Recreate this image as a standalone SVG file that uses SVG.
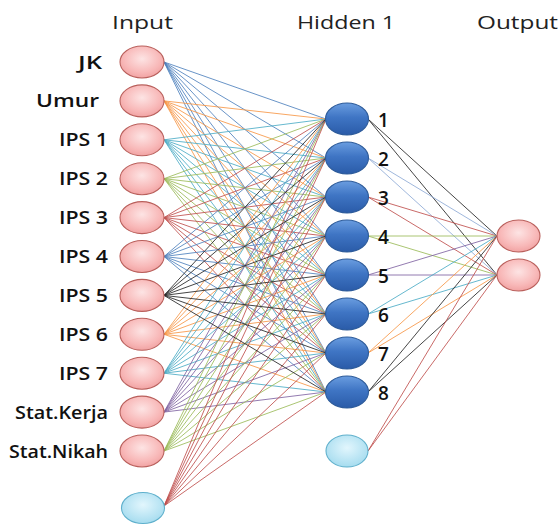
<svg xmlns="http://www.w3.org/2000/svg" width="560" height="525" viewBox="0 0 560 525">
<defs>
<radialGradient id="gPink" cx="50%" cy="40%" r="60%">
<stop offset="0" stop-color="#fde4e4"/>
<stop offset="0.7" stop-color="#f8b8b8"/>
<stop offset="1" stop-color="#f1a3a3"/>
</radialGradient>
<linearGradient id="gBlue" x1="0" y1="0" x2="0" y2="1">
<stop offset="0" stop-color="#6a9de0"/>
<stop offset="0.45" stop-color="#3f75c4"/>
<stop offset="1" stop-color="#2a5ba8"/>
</linearGradient>
<radialGradient id="gCyan" cx="50%" cy="40%" r="60%">
<stop offset="0" stop-color="#e2f6fd"/>
<stop offset="1" stop-color="#a6dcef"/>
</radialGradient>
</defs>
<style>
text{font-family:"Open Sans","DejaVu Sans","Liberation Sans",sans-serif;font-size:18px;fill:#111;font-weight:600}
.hdr{font-size:18px;font-weight:500;fill:#222}
.num{font-size:19px}
.pink{fill:url(#gPink);stroke:#b9605c;stroke-width:1.1}
.blue{fill:url(#gBlue);stroke:#2d5b9a;stroke-width:1.1}
.cyan{fill:url(#gCyan);stroke:#5fb0cc;stroke-width:1.1}
#connectors line{stroke-width:1;fill:none;stroke-opacity:0.85}
.b{stroke:#4f81bd}.o{stroke:#f79646}.t{stroke:#4bacc6}.g{stroke:#9bbb59}
.r{stroke:#c0504d}.k{stroke:#262626}.p{stroke:#8064a2}.lb{stroke:#8eaad6}
</style>
<rect width="560" height="525" fill="#fff"/>
<g id="headers">
<text class="hdr" x="112" y="29" textLength="61" lengthAdjust="spacingAndGlyphs">Input</text>
<text class="hdr" x="297" y="29" textLength="98" lengthAdjust="spacingAndGlyphs">Hidden 1</text>
<text class="hdr" x="477" y="29" textLength="81" lengthAdjust="spacingAndGlyphs">Output</text>
</g>
<g id="connectors">
<g class="b">
<line x1="164" y1="62" x2="326" y2="119"/><line x1="164" y1="62" x2="326" y2="158"/><line x1="164" y1="62" x2="326" y2="197"/><line x1="164" y1="62" x2="326" y2="236"/><line x1="164" y1="62" x2="326" y2="275"/><line x1="164" y1="62" x2="326" y2="314"/><line x1="164" y1="62" x2="326" y2="353"/><line x1="164" y1="62" x2="326" y2="392"/>
</g>
<g class="o">
<line x1="164" y1="100.9" x2="326" y2="119"/><line x1="164" y1="100.9" x2="326" y2="158"/><line x1="164" y1="100.9" x2="326" y2="197"/><line x1="164" y1="100.9" x2="326" y2="236"/><line x1="164" y1="100.9" x2="326" y2="275"/><line x1="164" y1="100.9" x2="326" y2="314"/><line x1="164" y1="100.9" x2="326" y2="353"/><line x1="164" y1="100.9" x2="326" y2="392"/>
</g>
<g class="t">
<line x1="164" y1="139.8" x2="326" y2="119"/><line x1="164" y1="139.8" x2="326" y2="158"/><line x1="164" y1="139.8" x2="326" y2="197"/><line x1="164" y1="139.8" x2="326" y2="236"/><line x1="164" y1="139.8" x2="326" y2="275"/><line x1="164" y1="139.8" x2="326" y2="314"/><line x1="164" y1="139.8" x2="326" y2="353"/><line x1="164" y1="139.8" x2="326" y2="392"/>
</g>
<g class="g">
<line x1="164" y1="178.7" x2="326" y2="119"/><line x1="164" y1="178.7" x2="326" y2="158"/><line x1="164" y1="178.7" x2="326" y2="197"/><line x1="164" y1="178.7" x2="326" y2="236"/><line x1="164" y1="178.7" x2="326" y2="275"/><line x1="164" y1="178.7" x2="326" y2="314"/><line x1="164" y1="178.7" x2="326" y2="353"/><line x1="164" y1="178.7" x2="326" y2="392"/>
</g>
<g class="r">
<line x1="164" y1="217.6" x2="326" y2="119"/><line x1="164" y1="217.6" x2="326" y2="158"/><line x1="164" y1="217.6" x2="326" y2="197"/><line x1="164" y1="217.6" x2="326" y2="236"/><line x1="164" y1="217.6" x2="326" y2="275"/><line x1="164" y1="217.6" x2="326" y2="314"/><line x1="164" y1="217.6" x2="326" y2="353"/><line x1="164" y1="217.6" x2="326" y2="392"/>
</g>
<g class="b">
<line x1="164" y1="256.5" x2="326" y2="119"/><line x1="164" y1="256.5" x2="326" y2="158"/><line x1="164" y1="256.5" x2="326" y2="197"/><line x1="164" y1="256.5" x2="326" y2="236"/><line x1="164" y1="256.5" x2="326" y2="275"/><line x1="164" y1="256.5" x2="326" y2="314"/><line x1="164" y1="256.5" x2="326" y2="353"/><line x1="164" y1="256.5" x2="326" y2="392"/>
</g>
<g class="o">
<line x1="164" y1="334.3" x2="326" y2="119"/><line x1="164" y1="334.3" x2="326" y2="158"/><line x1="164" y1="334.3" x2="326" y2="197"/><line x1="164" y1="334.3" x2="326" y2="236"/><line x1="164" y1="334.3" x2="326" y2="275"/><line x1="164" y1="334.3" x2="326" y2="314"/><line x1="164" y1="334.3" x2="326" y2="353"/><line x1="164" y1="334.3" x2="326" y2="392"/>
</g>
<g class="t">
<line x1="164" y1="373.2" x2="326" y2="119"/><line x1="164" y1="373.2" x2="326" y2="158"/><line x1="164" y1="373.2" x2="326" y2="197"/><line x1="164" y1="373.2" x2="326" y2="236"/><line x1="164" y1="373.2" x2="326" y2="275"/><line x1="164" y1="373.2" x2="326" y2="314"/><line x1="164" y1="373.2" x2="326" y2="353"/><line x1="164" y1="373.2" x2="326" y2="392"/>
</g>
<g class="p">
<line x1="164" y1="412.1" x2="326" y2="119"/><line x1="164" y1="412.1" x2="326" y2="158"/><line x1="164" y1="412.1" x2="326" y2="197"/><line x1="164" y1="412.1" x2="326" y2="236"/><line x1="164" y1="412.1" x2="326" y2="275"/><line x1="164" y1="412.1" x2="326" y2="314"/><line x1="164" y1="412.1" x2="326" y2="353"/><line x1="164" y1="412.1" x2="326" y2="392"/>
</g>
<g class="g">
<line x1="164" y1="451" x2="326" y2="119"/><line x1="164" y1="451" x2="326" y2="158"/><line x1="164" y1="451" x2="326" y2="197"/><line x1="164" y1="451" x2="326" y2="236"/><line x1="164" y1="451" x2="326" y2="275"/><line x1="164" y1="451" x2="326" y2="314"/><line x1="164" y1="451" x2="326" y2="353"/><line x1="164" y1="451" x2="326" y2="392"/>
</g>
<g class="r">
<line x1="164" y1="506" x2="326" y2="119"/><line x1="164" y1="506" x2="326" y2="158"/><line x1="164" y1="506" x2="326" y2="197"/><line x1="164" y1="506" x2="326" y2="236"/><line x1="164" y1="506" x2="326" y2="275"/><line x1="164" y1="506" x2="326" y2="314"/><line x1="164" y1="506" x2="326" y2="353"/><line x1="164" y1="506" x2="326" y2="392"/>
</g>
<g class="k">
<line x1="164" y1="295.4" x2="326" y2="119"/><line x1="164" y1="295.4" x2="326" y2="158"/><line x1="164" y1="295.4" x2="326" y2="197"/><line x1="164" y1="295.4" x2="326" y2="236"/><line x1="164" y1="295.4" x2="326" y2="275"/><line x1="164" y1="295.4" x2="326" y2="314"/><line x1="164" y1="295.4" x2="326" y2="353"/><line x1="164" y1="295.4" x2="326" y2="392"/>
</g>
<line class="k" x1="368" y1="119" x2="497" y2="236"/><line class="k" x1="368" y1="119" x2="497" y2="275"/>
<line class="lb" x1="368" y1="158" x2="497" y2="236"/><line class="lb" x1="368" y1="158" x2="497" y2="275"/>
<line class="r" x1="368" y1="197" x2="497" y2="236"/><line class="r" x1="368" y1="197" x2="497" y2="275"/>
<line class="g" x1="368" y1="236" x2="497" y2="236"/><line class="g" x1="368" y1="236" x2="497" y2="275"/>
<line class="p" x1="368" y1="275" x2="497" y2="236"/><line class="p" x1="368" y1="275" x2="497" y2="275"/>
<line class="t" x1="368" y1="314" x2="497" y2="236"/><line class="t" x1="368" y1="314" x2="497" y2="275"/>
<line class="o" x1="368" y1="353" x2="497" y2="236"/><line class="o" x1="368" y1="353" x2="497" y2="275"/>
<line class="k" x1="368" y1="392" x2="497" y2="236"/><line class="k" x1="368" y1="392" x2="497" y2="275"/>
<line class="r" x1="368" y1="451" x2="497" y2="236"/><line class="r" x1="368" y1="451" x2="497" y2="275"/>
</g>
<g id="in-jk"><ellipse class="pink" cx="142" cy="62" rx="22" ry="16"/><text x="78" y="68.5" textLength="24" lengthAdjust="spacingAndGlyphs">JK</text></g>
<g id="in-umur"><ellipse class="pink" cx="142" cy="100.9" rx="22" ry="16"/><text x="36" y="107.4" textLength="63" lengthAdjust="spacingAndGlyphs">Umur</text></g>
<g id="in-ips1"><ellipse class="pink" cx="142" cy="139.8" rx="22" ry="16"/><text x="59" y="146.3" textLength="49" lengthAdjust="spacingAndGlyphs">IPS 1</text></g>
<g id="in-ips2"><ellipse class="pink" cx="142" cy="178.7" rx="22" ry="16"/><text x="59" y="185.2" textLength="49" lengthAdjust="spacingAndGlyphs">IPS 2</text></g>
<g id="in-ips3"><ellipse class="pink" cx="142" cy="217.6" rx="22" ry="16"/><text x="59" y="224.1" textLength="49" lengthAdjust="spacingAndGlyphs">IPS 3</text></g>
<g id="in-ips4"><ellipse class="pink" cx="142" cy="256.5" rx="22" ry="16"/><text x="59" y="263" textLength="49" lengthAdjust="spacingAndGlyphs">IPS 4</text></g>
<g id="in-ips5"><ellipse class="pink" cx="142" cy="295.4" rx="22" ry="16"/><text x="59" y="301.9" textLength="49" lengthAdjust="spacingAndGlyphs">IPS 5</text></g>
<g id="in-ips6"><ellipse class="pink" cx="142" cy="334.3" rx="22" ry="16"/><text x="59" y="340.8" textLength="49" lengthAdjust="spacingAndGlyphs">IPS 6</text></g>
<g id="in-ips7"><ellipse class="pink" cx="142" cy="373.2" rx="22" ry="16"/><text x="59" y="379.7" textLength="49" lengthAdjust="spacingAndGlyphs">IPS 7</text></g>
<g id="in-statkerja"><ellipse class="pink" cx="142" cy="412.1" rx="22" ry="16"/><text x="15" y="418.6" textLength="93" lengthAdjust="spacingAndGlyphs">Stat.Kerja</text></g>
<g id="in-statnikah"><ellipse class="pink" cx="142" cy="451" rx="22" ry="16"/><text x="9" y="457.5" textLength="99" lengthAdjust="spacingAndGlyphs">Stat.Nikah</text></g>
<g id="in-bias"><ellipse class="cyan" cx="143" cy="508" rx="21.5" ry="15.5"/></g>
<g id="h1"><ellipse class="blue" cx="347" cy="119" rx="21.5" ry="16"/><text class="num" x="378" y="127">1</text></g>
<g id="h2"><ellipse class="blue" cx="347" cy="158" rx="21.5" ry="16"/><text class="num" x="378" y="166">2</text></g>
<g id="h3"><ellipse class="blue" cx="347" cy="197" rx="21.5" ry="16"/><text class="num" x="378" y="205">3</text></g>
<g id="h4"><ellipse class="blue" cx="347" cy="236" rx="21.5" ry="16"/><text class="num" x="378" y="244">4</text></g>
<g id="h5"><ellipse class="blue" cx="347" cy="275" rx="21.5" ry="16"/><text class="num" x="378" y="283">5</text></g>
<g id="h6"><ellipse class="blue" cx="347" cy="314" rx="21.5" ry="16"/><text class="num" x="378" y="322">6</text></g>
<g id="h7"><ellipse class="blue" cx="347" cy="353" rx="21.5" ry="16"/><text class="num" x="378" y="361">7</text></g>
<g id="h8"><ellipse class="blue" cx="347" cy="392" rx="21.5" ry="16"/><text class="num" x="378" y="400">8</text></g>
<g id="h-bias"><ellipse class="cyan" cx="347" cy="451" rx="21" ry="16"/></g>
<g id="out1"><ellipse class="pink" cx="518.5" cy="236" rx="21.5" ry="16"/></g>
<g id="out2"><ellipse class="pink" cx="518.5" cy="275" rx="21.5" ry="16"/></g>
</svg>
